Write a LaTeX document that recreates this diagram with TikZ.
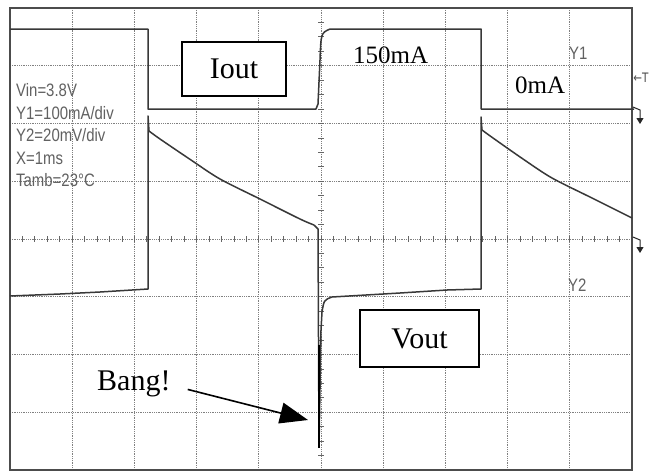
\documentclass[tikz,border=0pt]{standalone}
\usepackage{fontspec}
\setmainfont{Liberation Serif}
\newfontfamily\scopefont[FakeStretch=0.83]{Liberation Sans}
\newfontfamily\symfont[FakeStretch=0.8]{DejaVu Sans}
\usetikzlibrary{arrows.meta,calc}
\begin{document}
\begin{tikzpicture}[x=1pt,y=-1pt,
  gridline/.style={black!50, line width=0.7pt, dash pattern=on 0.9pt off 0.9pt},
  tickmark/.style={black!60, line width=0.8pt},
  frameline/.style={draw=black!70, line width=1.6pt},
  trace/.style={draw=black!78, line width=1.5pt, line join=round},
  scopetxt/.style={text=black!62, font=\scopefont\fontsize{18}{18}\selectfont, inner sep=0pt, anchor=west},
  biglabel/.style={font=\fontsize{30}{30}\selectfont, inner sep=0pt},
  midlabel/.style={font=\fontsize{25}{25}\selectfont, inner sep=0pt, anchor=base west},
  tagbox/.style={draw=black, line width=1.3pt, fill=white, inner sep=0pt, font=\fontsize{30}{30}\selectfont},
  marker/.style={black!85, line width=1pt, -{Triangle[length=6pt,width=7pt]}}]
\useasboundingbox (0,0) rectangle (650,472);
\fill[white] (0,0) rectangle (650,472);
% grid
\foreach \i in {1,...,9} \draw[gridline] (10+\i*62.2,8) -- (10+\i*62.2,470);
\foreach \j in {1,...,7} \draw[gridline] (10,8+\j*57.75) -- (632,8+\j*57.75);
% axis ticks
\foreach \i in {1,...,49} \draw[tickmark] (10+\i*12.44,236) -- (10+\i*12.44,242);
\foreach \j in {1,...,31} \draw[tickmark] (318,8+\j*14.4375) -- (324,8+\j*14.4375);
% frame
\draw[frameline] (10,8) rectangle (632,470);
% Y1 trace (current)
\draw[trace] (10,29) -- (148,29) -- (148,109) -- (316,109) -- (318,104) -- (320,60)
  .. controls (321,33) .. (330,29) -- (481,29) -- (481,109) -- (634,109);
% Y2 trace (voltage)
\draw[trace] (10,296) -- (35,295) -- (60,294) -- (100,292) -- (148,289) -- (148,116) -- (149,131);
\draw[trace] plot[smooth] coordinates {(149,131) (160,139) (191,160) (220,179) (260,199) (300,219) (314,225)};
\draw[trace] (314,225) -- (318,229) -- (319,447) -- (321,330) -- (322,312)
  .. controls (324,300) .. (332,297) -- (400,293) -- (447,290) -- (481,289) -- (481,117) -- (482,130);
\draw[trace] plot[smooth] coordinates {(482,130) (493,138) (523,159) (552,178) (592,198) (632,218)};
\draw[black, line width=2.2pt] (319,345) -- (319,448);
% right-side markers
\draw[marker] (633,107) -- (640,110) -- (640,124);
\draw[marker] (633,237) -- (640,240) -- (640,253);
\node[text=black!70, font=\symfont\fontsize{13}{13}\selectfont, inner sep=0pt] (trig) at (641,78) {←T};
% scope settings text
\node[scopetxt] (vin) at (16,90) {Vin=3.8V};
\node[scopetxt] (y1div) at (16,113) {Y1=100mA/div};
\node[scopetxt] (y2div) at (16,135) {Y2=20mV/div};
\node[scopetxt] (xdiv) at (16,158) {X=1ms};
\node[scopetxt] (tamb) at (16,180) {Tamb=23°C};
\node[scopetxt] (y1) at (569,53) {Y1};
\node[scopetxt] (y2) at (568,285) {Y2};
% labels
\node[tagbox, minimum width=104pt, minimum height=54pt] (iout) at (234,69) {Iout};
\node[tagbox, minimum width=119pt, minimum height=57pt] (vout) at (419.5,338.5) {Vout};
\node[midlabel] (hi) at (353,63) {150mA};
\node[midlabel] (lo) at (515,93) {0mA};
\node[biglabel, anchor=base west] (bang) at (97,390) {Bang!};
\coordinate (bangtip) at (308,420);
\draw[line width=1.6pt, -{Triangle[length=28pt,width=21pt]}] ($(bang.east)+(17,6)$) -- (bangtip);
\end{tikzpicture}
\end{document}
